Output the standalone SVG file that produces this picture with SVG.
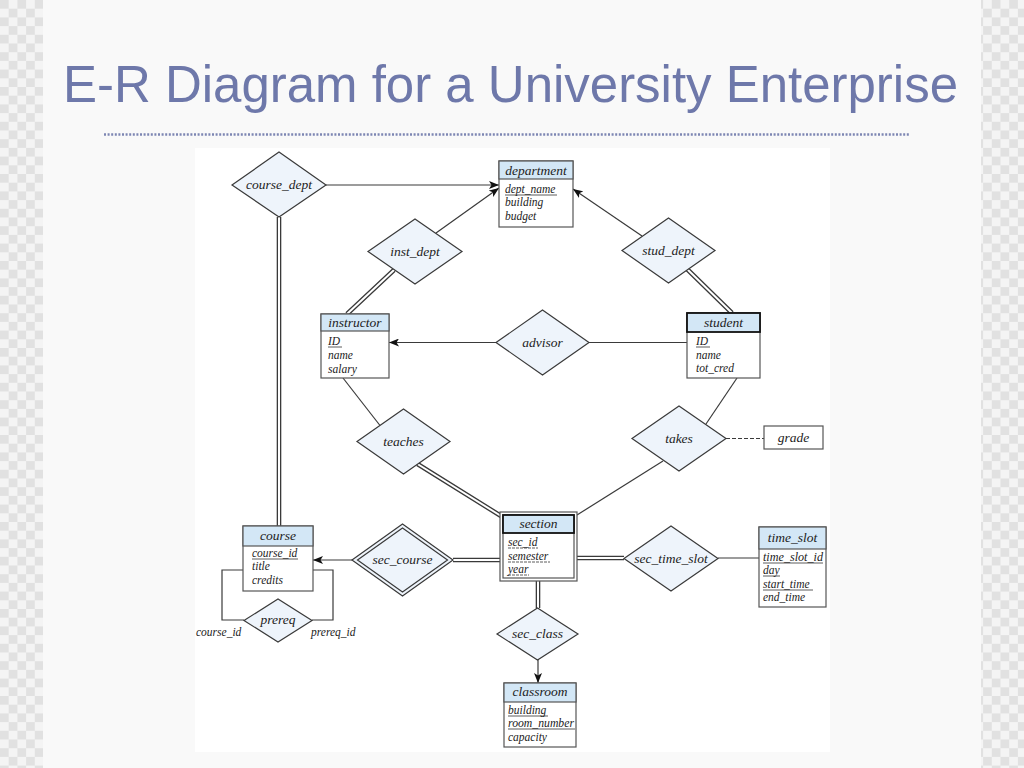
<svg xmlns="http://www.w3.org/2000/svg" width="1024" height="768" viewBox="0 0 1024 768">
<defs>
<pattern id="chk" x="0" y="0" width="17.4" height="17.4" patternUnits="userSpaceOnUse">
<rect width="17.4" height="17.4" fill="#f4f4f4"/>
<rect x="0" y="0" width="8.7" height="8.7" fill="#e1e1e1"/>
<rect x="8.7" y="8.7" width="8.7" height="8.7" fill="#e1e1e1"/>
</pattern>
<marker id="arr" markerWidth="10" markerHeight="8" refX="10" refY="4" orient="auto" markerUnits="userSpaceOnUse">
<path d="M0,0 L10,4 L0,8 L2.5,4 Z" fill="#111"/>
</marker>
<style>
.ln{stroke:#3a3a3a;stroke-width:1.2;fill:none}
.dbo{stroke:#3a3a3a;stroke-width:4.6;fill:none}
.dbi{stroke:#ffffff;stroke-width:2;fill:none}
.dia{fill:#eef4fb;stroke:#3a3a3a;stroke-width:1.2}
.ent{fill:#ffffff;stroke:#555;stroke-width:1.2}
.hdr{fill:#d3e7f6;stroke:#555;stroke-width:1.2}
.hdrk{fill:#d3e7f6;stroke:#111;stroke-width:1.8}
.t{font-family:"Liberation Serif","DejaVu Serif",serif;font-style:italic;fill:#222}
.rl{font-size:13.5px;text-anchor:middle}
.eh{font-size:13.5px;text-anchor:middle}
.at{font-size:11.5px}
.u{stroke:#333;stroke-width:0.8}
</style>
</defs>
<rect width="1024" height="768" fill="#f9f9f9"/>
<rect x="0" y="0" width="43" height="768" fill="url(#chk)"/>
<rect x="981" y="0" width="43" height="768" fill="url(#chk)"/>
<text x="63" y="102" font-family="Liberation Sans, Arial, sans-serif" font-size="52" fill="#6e78aa" textLength="895" lengthAdjust="spacingAndGlyphs">E-R Diagram for a University Enterprise</text>
<line x1="104" y1="134.5" x2="910" y2="134.5" stroke="#7d86b3" stroke-width="2.5" stroke-dasharray="2 1.6"/>
<rect x="195" y="148" width="635" height="604" fill="#ffffff"/>

<g id="connectors">
<line class="ln" x1="326" y1="185" x2="499" y2="185" marker-end="url(#arr)"/>
<line class="ln" x1="436" y1="233" x2="499" y2="188" marker-end="url(#arr)"/>
<line class="ln" x1="642" y1="236" x2="573" y2="189" marker-end="url(#arr)"/>
<line class="ln" x1="496" y1="342.5" x2="389" y2="342.5" marker-end="url(#arr)"/>
<line class="ln" x1="589" y1="342.5" x2="687" y2="342.5"/>
<line class="ln" x1="343" y1="378" x2="380" y2="425.5"/>
<line class="ln" x1="737" y1="378" x2="706" y2="424"/>
<line class="ln" x1="663" y1="461" x2="577" y2="515"/>
<line class="ln" x1="726" y1="438.5" x2="764" y2="438.5" stroke-dasharray="4 2"/>
<line class="ln" x1="352" y1="560" x2="313" y2="560" marker-end="url(#arr)"/>
<line class="ln" x1="718" y1="558" x2="759" y2="558"/>
<line class="ln" x1="538" y1="660" x2="538" y2="683" marker-end="url(#arr)"/>
<polyline class="ln" points="243,570 222,570 222,620 244,620"/>
<polyline class="ln" points="313,570 333,570 333,620 312,620"/>
<g>
<path class="dbo" d="M394,270 L347,314 M687,269 L732,313 M279,217 L279,526 M417.5,464 L501,516 M453,560 L500,560 M577,558 L624,558 M538,581 L538,608"/>
<path class="dbi" d="M394,270 L347,314 M687,269 L732,313 M279,217 L279,526 M417.5,464 L501,516 M453,560 L500,560 M577,558 L624,558 M538,581 L538,608"/>
</g>
</g>

<g id="course_dept">
<polygon class="dia" points="232,185 279,152 326,185 279,217"/>
<text class="t rl" x="279" y="189">course_dept</text>
</g>
<g id="inst_dept">
<polygon class="dia" points="368,251.5 415,219 462,251.5 415,284"/>
<text class="t rl" x="415" y="256">inst_dept</text>
</g>
<g id="stud_dept">
<polygon class="dia" points="622,250.5 668.5,218 715,250.5 668.5,283"/>
<text class="t rl" x="668.5" y="255">stud_dept</text>
</g>
<g id="advisor">
<polygon class="dia" points="496,342.5 542.5,310 589,342.5 542.5,375"/>
<text class="t rl" x="542.5" y="347">advisor</text>
</g>
<g id="teaches">
<polygon class="dia" points="357,441.5 403.5,409 450,441.5 403.5,474"/>
<text class="t rl" x="403.5" y="446">teaches</text>
</g>
<g id="takes">
<polygon class="dia" points="632,438.5 679,406 726,438.5 679,471"/>
<text class="t rl" x="679" y="443">takes</text>
</g>
<g id="sec_course">
<polygon class="dia" points="352,560 402.5,524 453,560 402.5,596"/>
<polygon fill="none" stroke="#3a3a3a" stroke-width="1.2" points="357.5,560 402.5,528 447.5,560 402.5,592"/>
<text class="t rl" x="402.5" y="564">sec_course</text>
</g>
<g id="sec_time_slot">
<polygon class="dia" points="624,558.5 671,526 718,558.5 671,591"/>
<text class="t rl" x="671" y="563">sec_time_slot</text>
</g>
<g id="sec_class">
<polygon class="dia" points="497,634 537.5,608 578,634 537.5,660"/>
<text class="t rl" x="537.5" y="638">sec_class</text>
</g>
<g id="prereq">
<polygon class="dia" points="244,620.5 278,599 312,620.5 278,642"/>
<text class="t rl" x="278" y="624">prereq</text>
<text class="t at" x="196" y="636">course_id</text>
<text class="t at" x="311" y="636">prereq_id</text>
</g>

<g id="department">
<rect class="ent" x="499" y="161" width="74" height="66"/>
<rect class="hdr" x="499" y="161" width="74" height="18"/>
<text class="t eh" x="536" y="175">department</text>
<text class="t at" x="505" y="193">dept_name</text>
<line class="u" x1="505" y1="195" x2="557" y2="195"/>
<text class="t at" x="505" y="206">building</text>
<text class="t at" x="505" y="220">budget</text>
</g>
<g id="instructor">
<rect class="ent" x="321" y="314" width="68" height="64"/>
<rect class="hdr" x="321" y="314" width="68" height="17"/>
<text class="t eh" x="355" y="327">instructor</text>
<text class="t at" x="328" y="345">ID</text>
<line class="u" x1="328" y1="347" x2="342" y2="347"/>
<text class="t at" x="328" y="359">name</text>
<text class="t at" x="328" y="373">salary</text>
</g>
<g id="student">
<rect class="ent" x="687" y="313" width="73" height="65"/>
<rect class="hdrk" x="687" y="313" width="73" height="19"/>
<text class="t eh" x="723.5" y="327">student</text>
<text class="t at" x="696" y="345">ID</text>
<line class="u" x1="696" y1="347" x2="710" y2="347"/>
<text class="t at" x="696" y="359">name</text>
<text class="t at" x="696" y="372">tot_cred</text>
</g>
<g id="grade">
<rect class="ent" x="764" y="426" width="59" height="23"/>
<text class="t eh" x="793.5" y="442">grade</text>
</g>
<g id="section">
<rect class="ent" x="500" y="512" width="77" height="69"/>
<rect fill="none" stroke="#555" stroke-width="1.2" x="503" y="515" width="71" height="63"/>
<rect class="hdrk" x="503" y="515" width="71" height="18"/>
<text class="t eh" x="538.5" y="528">section</text>
<text class="t at" x="508" y="546">sec_id</text>
<line class="u" x1="508" y1="548" x2="538" y2="548" stroke-dasharray="3 1"/>
<text class="t at" x="508" y="560">semester</text>
<line class="u" x1="508" y1="562" x2="550" y2="562" stroke-dasharray="3 1"/>
<text class="t at" x="508" y="573">year</text>
<line class="u" x1="508" y1="575" x2="529" y2="575" stroke-dasharray="3 1"/>
</g>
<g id="time_slot">
<rect class="ent" x="759" y="527" width="67" height="80"/>
<rect class="hdr" x="759" y="527" width="67" height="22"/>
<text class="t eh" x="792.5" y="542">time_slot</text>
<text class="t at" x="763" y="561" textLength="60" lengthAdjust="spacingAndGlyphs">time_slot_id</text>
<line class="u" x1="763" y1="563" x2="823" y2="563"/>
<text class="t at" x="763" y="574">day</text>
<line class="u" x1="763" y1="576" x2="780" y2="576"/>
<text class="t at" x="763" y="588">start_time</text>
<line class="u" x1="763" y1="590" x2="813" y2="590"/>
<text class="t at" x="763" y="601">end_time</text>
</g>
<g id="course">
<rect class="ent" x="243" y="526" width="70" height="65"/>
<rect class="hdr" x="243" y="526" width="70" height="20"/>
<text class="t eh" x="278" y="540">course</text>
<text class="t at" x="252" y="557">course_id</text>
<line class="u" x1="252" y1="559" x2="298" y2="559"/>
<text class="t at" x="252" y="570">title</text>
<text class="t at" x="252" y="584">credits</text>
</g>
<g id="classroom">
<rect class="ent" x="504" y="683" width="72" height="64"/>
<rect class="hdr" x="504" y="683" width="72" height="19"/>
<text class="t eh" x="540" y="696">classroom</text>
<text class="t at" x="508" y="714">building</text>
<line class="u" x1="508" y1="716" x2="548" y2="716"/>
<text class="t at" x="508" y="727" textLength="66" lengthAdjust="spacingAndGlyphs">room_number</text>
<line class="u" x1="508" y1="729" x2="575" y2="729"/>
<text class="t at" x="508" y="741">capacity</text>
</g>
</svg>
